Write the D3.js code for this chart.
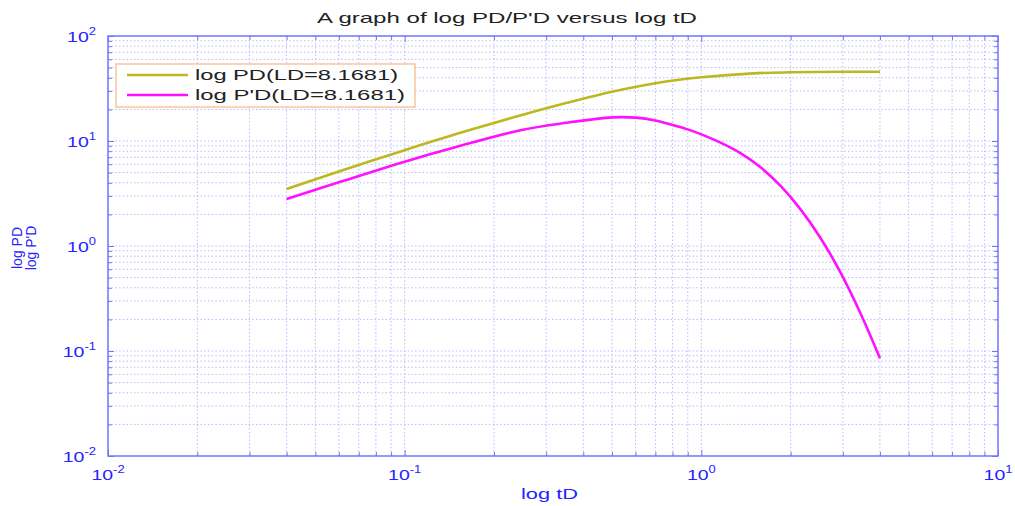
<!DOCTYPE html>
<html>
<head>
<meta charset="utf-8">
<script src="https://cdn.jsdelivr.net/npm/d3@7"></script>
<style>
  html, body { margin: 0; padding: 0; background: #fff; }
  svg { display: block; font-family: "Liberation Sans", Arial, sans-serif; }
</style>
</head>
<body>
<svg id="chart" width="1015" height="506"></svg>
<script>
// ---- data ----
const tD_PD = [0.04, 0.06, 0.1, 0.15, 0.25, 0.35, 0.5, 0.7, 1.0, 1.5, 2.0, 3.0, 4.0];
const PD    = [3.49, 5.13, 8.18, 11.7, 17.8, 23.0, 29.5, 35.5, 40.4, 44.1, 45.1, 45.6, 45.7];
const tD_dPD = [0.04, 0.06, 0.1, 0.15, 0.25, 0.35, 0.5, 0.6, 0.7, 0.8, 0.9, 0.99, 1.16, 1.35, 1.58, 1.85, 2.15, 2.5, 2.95, 3.45, 4.0];
const dPD    = [2.8, 4.04, 6.35, 8.8, 12.8, 14.9, 16.8, 16.7, 15.7, 14.2, 12.9, 11.7, 9.66, 7.72, 5.65, 3.73, 2.27, 1.24, 0.554, 0.224, 0.0854];
const seriesNames = ["log PD(LD=8.1681)", "log P'D(LD=8.1681)"];
const xTickExponents = [-2, -1, 0, 1];
const yTickExponents = [-2, -1, 0, 1, 2];
const titleText = "A graph of log PD/P'D versus log tD";
const xLabel = "log tD";
const yLabels = ["log PD", "log P'D"];

// ---- layout ----
const L = 108, R = 998, T = 36, B = 456;
const blue = "#2424ff", axisBlue = "#7373ff", gridBlue = "#b8b8ff";
const colPD = "#bdb820", colDPD = "#ff10ff";

const svg = d3.select("#chart");
const x = d3.scaleLog().domain([0.01, 10]).range([L, R]);
const y = d3.scaleLog().domain([0.01, 100]).range([B, T]);

// all tick values (major + minor)
function logTicks(lo, hi) {
  const out = [];
  for (let e = lo; e < hi; e++) for (let m = 1; m <= 9; m++) out.push(m * Math.pow(10, e));
  out.push(Math.pow(10, hi));
  return out;
}
const xTicks = logTicks(-2, 1);
const yTicks = logTicks(-2, 2);
const isMajor = v => Math.abs(Math.log10(v) - Math.round(Math.log10(v))) < 1e-9;

// grid
const grid = svg.append("g");
grid.selectAll("line.gx").data(xTicks.filter(v => v > 0.01 && v < 10)).join("line")
  .attr("x1", d => x(d)).attr("x2", d => x(d)).attr("y1", T).attr("y2", B)
  .attr("stroke", gridBlue).attr("stroke-width", 1).attr("stroke-dasharray", "1.5,2.2");
grid.selectAll("line.gy").data(yTicks.filter(v => v > 0.01 && v < 100)).join("line")
  .attr("x1", L).attr("x2", R).attr("y1", d => y(d)).attr("y2", d => y(d))
  .attr("stroke", gridBlue).attr("stroke-width", 1).attr("stroke-dasharray", "1.5,2.2");

// axes (ticks inward on all sides)
function styleAxis(g) {
  g.select(".domain").remove();
  g.selectAll(".tick line").attr("stroke", axisBlue).attr("stroke-width", 1);
  g.selectAll(".tick text").remove();
}
const tickLen = d => isMajor(d) ? 6 : 4;
svg.append("g").attr("transform", `translate(0,${B})`)
  .call(d3.axisBottom(x).tickValues(xTicks).tickSize(0)).call(styleAxis)
  .selectAll(".tick line").attr("y2", d => -tickLen(d));
svg.append("g").attr("transform", `translate(0,${T})`)
  .call(d3.axisTop(x).tickValues(xTicks).tickSize(0)).call(styleAxis)
  .selectAll(".tick line").attr("y2", d => tickLen(d));
svg.append("g").attr("transform", `translate(${L},0)`)
  .call(d3.axisLeft(y).tickValues(yTicks).tickSize(0)).call(styleAxis)
  .selectAll(".tick line").attr("x2", d => tickLen(d));
svg.append("g").attr("transform", `translate(${R},0)`)
  .call(d3.axisRight(y).tickValues(yTicks).tickSize(0)).call(styleAxis)
  .selectAll(".tick line").attr("x2", d => -tickLen(d));

svg.append("rect").attr("x", L).attr("y", T).attr("width", R - L).attr("height", B - T)
  .attr("fill", "none").attr("stroke", axisBlue).attr("stroke-width", 1.5);

// tick labels
function powLabel(g, e) {
  const t = g.append("text").attr("fill", blue).attr("font-size", 15);
  t.append("tspan").text("10");
  t.append("tspan").attr("font-size", 10).attr("dy", -7).text(e);
  return t;
}
xTickExponents.forEach(e => {
  const g = svg.append("g").attr("transform", `translate(${x(Math.pow(10, e))},480) scale(1.3,1)`);
  powLabel(g, e).attr("text-anchor", "middle");
});
yTickExponents.forEach(e => {
  const g = svg.append("g").attr("transform", `translate(96,${y(Math.pow(10, e)) + 6}) scale(1.3,1)`);
  powLabel(g, e).attr("text-anchor", "end");
});

// curves
const line = d3.line().curve(d3.curveCatmullRom.alpha(0.5));
svg.append("path")
  .attr("d", line(tD_PD.map((t, i) => [x(t), y(PD[i])])))
  .attr("fill", "none").attr("stroke", colPD).attr("stroke-width", 2.6);
svg.append("path")
  .attr("d", line(tD_dPD.map((t, i) => [x(t), y(dPD[i])])))
  .attr("fill", "none").attr("stroke", colDPD).attr("stroke-width", 2.6);

// title
svg.append("text").attr("x", 317).attr("y", 23).attr("font-size", 15).attr("fill", "#222")
  .attr("textLength", 380).attr("lengthAdjust", "spacingAndGlyphs").text(titleText);

// x label
svg.append("text").attr("x", 521).attr("y", 499).attr("font-size", 15).attr("fill", blue)
  .attr("textLength", 57).attr("lengthAdjust", "spacingAndGlyphs").text(xLabel);

// y labels
yLabels.forEach((lab, i) => {
  svg.append("text").attr("transform", `translate(${22 + i * 14},248) rotate(-90)`)
    .attr("text-anchor", "middle").attr("font-size", 14).attr("fill", blue).text(lab);
});

// legend
const lg = svg.append("g");
lg.append("rect").attr("x", 116).attr("y", 64).attr("width", 299).attr("height", 43)
  .attr("fill", "#fff").attr("stroke", "#f7b880").attr("stroke-width", 1.2);
const legendCols = [colPD, colDPD];
const legendLens = [203, 210];
seriesNames.forEach((n, i) => {
  const yy = 75 + i * 20;
  lg.append("line").attr("x1", 127).attr("x2", 188).attr("y1", yy).attr("y2", yy)
    .attr("stroke", legendCols[i]).attr("stroke-width", 2.6);
  lg.append("text").attr("x", 195).attr("y", yy + 5).attr("font-size", 15).attr("fill", "#222")
    .attr("textLength", legendLens[i]).attr("lengthAdjust", "spacingAndGlyphs").text(n);
});
</script>
</body>
</html>
